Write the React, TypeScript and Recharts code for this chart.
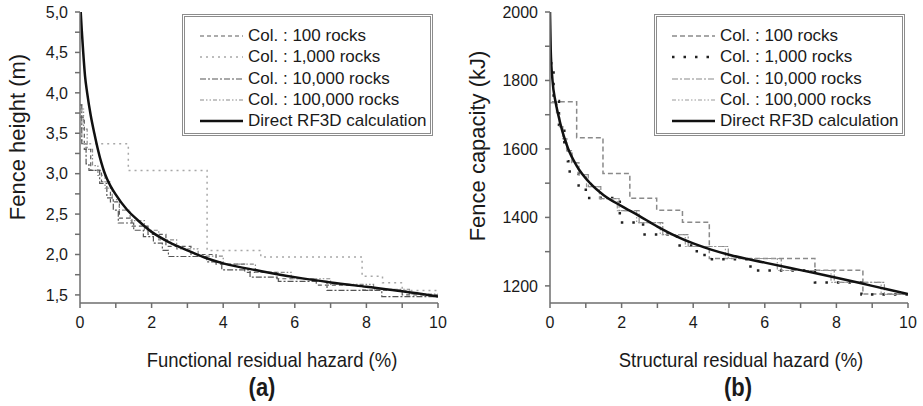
import { Line, LineChart, XAxis, YAxis } from "recharts";

// ---- panel (a): functional residual hazard vs fence height ----
const hazardTicks = [0, 1, 2, 3, 4, 5, 6, 7, 8, 9, 10];
const heightTicks = [1.5, 1.75, 2, 2.25, 2.5, 2.75, 3, 3.25, 3.5, 3.75, 4, 4.25, 4.5, 4.75, 5];

const aDirectX = [0.02, 0.05, 0.09, 0.14, 0.2, 0.3, 0.4, 0.5, 0.6, 0.67, 0.75, 0.85, 1.0, 1.32, 1.6, 2, 2.5, 3, 3.5, 4, 5, 6, 7, 8, 9, 10];
const aDirectY = [5.0, 4.77, 4.5, 4.21, 4.0, 3.72, 3.5, 3.3, 3.13, 3.03, 2.94, 2.85, 2.74, 2.55, 2.43, 2.28, 2.15, 2.05, 1.96, 1.89, 1.8, 1.72, 1.655, 1.6, 1.545, 1.48];

const a100X = [0, 0.12, 0.3, 0.6, 0.85, 1.1, 1.45, 1.9, 2.4, 3.1, 3.8, 4.6, 5.5, 6.6, 7.9, 9.0, 10];
const a100Y = [3.7, 3.3, 3.04, 2.9, 2.65, 2.45, 2.35, 2.25, 2.1, 2.0, 1.88, 1.78, 1.7, 1.62, 1.56, 1.5, 1.5];

const a1kX = [0, 0.05, 1.35, 3.55, 5.05, 7.88, 8.45, 9.0, 10];
const a1kY = [3.85, 3.37, 3.04, 2.05, 1.97, 1.73, 1.65, 1.555, 1.555];

const a10kX = [0, 0.05, 0.17, 0.25, 0.55, 0.75, 0.93, 1.07, 1.5, 1.77, 2.05, 2.3, 2.47, 3.54, 3.96, 4.75, 5.54, 6.9, 8.43, 10];
const a10kY = [3.85, 3.37, 3.12, 3.04, 2.88, 2.7, 2.55, 2.39, 2.3, 2.22, 2.14, 2.05, 1.975, 1.91, 1.81, 1.72, 1.667, 1.555, 1.48, 1.48];

const a100kX = [0, 0.1, 0.2, 0.35, 0.5, 0.7, 0.9, 1.1, 1.4, 1.8, 2.2, 2.7, 3.3, 4.0, 4.9, 5.9, 7.0, 8.2, 9.2, 10];
const a100kY = [3.8, 3.55, 3.3, 3.1, 2.98, 2.82, 2.68, 2.55, 2.42, 2.3, 2.18, 2.07, 1.98, 1.88, 1.78, 1.7, 1.63, 1.57, 1.51, 1.48];

// ---- panel (b): structural residual hazard vs fence capacity ----
const capacityTicks = [1200, 1300, 1400, 1500, 1600, 1700, 1800, 1900, 2000];

const bDirectX = [0, 0.02, 0.07, 0.15, 0.23, 0.35, 0.51, 0.75, 1.12, 1.5, 2, 2.5, 3, 3.5, 4, 4.5, 5, 6, 7, 8, 9, 10];
const bDirectY = [2000, 1890, 1800, 1740, 1700, 1650, 1600, 1550, 1500, 1465, 1433, 1404, 1373, 1346, 1324, 1306, 1291, 1268, 1246, 1224, 1200, 1176];

const b100X = [0.05, 0.745, 1.48, 2.23, 2.98, 3.7, 4.45, 7.4, 8.74, 10];
const b100Y = [1738, 1633, 1528, 1456, 1421, 1386, 1280, 1246, 1176, 1176];

const b1kX = [0, 0.1, 0.25, 0.4, 0.5, 0.55, 0.8, 1.0, 1.95, 2.6, 3.55, 4.1, 4.4, 5.6, 7.4, 8.7, 10];
const b1kY = [1850, 1740, 1660, 1600, 1564, 1528, 1493, 1457, 1385, 1350, 1318, 1290, 1278, 1245, 1210, 1175, 1175];

const b10kX = [0, 0.2, 0.27, 0.36, 0.47, 0.62, 0.81, 1.07, 1.42, 1.93, 2.49, 3.15, 3.86, 4.98, 6.46, 7.94, 9.34, 10];
const b10kY = [1735, 1700, 1665, 1630, 1595, 1560, 1525, 1490, 1455, 1420, 1385, 1350, 1315, 1280, 1245, 1210, 1175, 1175];

const b100kX = [0, 0.18, 0.26, 0.35, 0.46, 0.6, 0.78, 1.02, 1.38, 1.88, 2.42, 3.08, 3.78, 4.9, 6.35, 7.85, 9.25, 10];
const b100kY = [1735, 1700, 1665, 1630, 1595, 1560, 1525, 1490, 1455, 1420, 1385, 1350, 1315, 1280, 1245, 1210, 1175, 1175];

const zip = (xs: number[], ys: number[]) => xs.map((x, i) => ({ x, y: ys[i] }));

const FONT = "'Liberation Sans', Arial, sans-serif";
const AXIS = { stroke: "#6e6e6e", strokeWidth: 1.5 };

type Style = { label: string; color: string; dash?: string; width: number };

const aStyles: Style[] = [
  { label: "Col. : 100 rocks", color: "#5a5a5a", dash: "4 3", width: 1.2 },
  { label: "Col. : 1,000 rocks", color: "#a8a8a8", dash: "2 4", width: 1.5 },
  { label: "Col. : 10,000 rocks", color: "#555", dash: "6 2 2 2", width: 1.2 },
  { label: "Col. : 100,000 rocks", color: "#8a8a8a", dash: "4 2 1.5 2 1.5 2", width: 1.2 },
  { label: "Direct RF3D calculation", color: "#111", width: 2.5 },
];

const bStyles: Style[] = [
  { label: "Col. : 100 rocks", color: "#8a8a8a", dash: "5 3", width: 1.5 },
  { label: "Col. : 1,000 rocks", color: "#222", dash: "2.5 9", width: 2.5 },
  { label: "Col. : 10,000 rocks", color: "#8a8a8a", dash: "6 2 2 2", width: 1.2 },
  { label: "Col. : 100,000 rocks", color: "#9a9a9a", dash: "4 2 1.5 2 1.5 2", width: 1.2 },
  { label: "Direct RF3D calculation", color: "#111", width: 2.5 },
];

function LegendBox({ items, left, sampleLeft }: { items: Style[]; left: number; sampleLeft: number }) {
  return (
    <div
      style={{
        position: "absolute",
        left,
        top: 14,
        width: 251,
        height: 122,
        boxSizing: "border-box",
        border: "3px double #8c8c8c",
        background: "#fff",
        fontFamily: FONT,
        fontSize: 17,
        color: "#1a1a1a",
      }}
    >
      {items.map((s, i) => (
        <div
          key={s.label}
          style={{ position: "absolute", top: 9 + i * 21.25, left: sampleLeft, height: 20, display: "flex", alignItems: "center", whiteSpace: "nowrap" }}
        >
          <svg width={43} height={8} style={{ marginRight: 5 }}>
            <line x1={0} y1={4} x2={43} y2={4} stroke={s.color} strokeWidth={s.width} strokeDasharray={s.dash} />
          </svg>
          {s.label}
        </div>
      ))}
    </div>
  );
}

function Text({ x, y, size, bold, rotate, children }: { x: number; y: number; size: number; bold?: boolean; rotate?: boolean; children: string }) {
  return (
    <div
      style={{
        position: "absolute",
        left: x,
        top: y,
        transform: `translate(-50%, -50%)${rotate ? " rotate(-90deg)" : " scaleX(0.88)"}`,
        fontFamily: FONT,
        fontSize: size,
        fontWeight: bold ? 700 : 400,
        color: "#1a1a1a",
        whiteSpace: "nowrap",
      }}
    >
      {children}
    </div>
  );
}

const tickStyle = { fontSize: 16, fill: "#1a1a1a", fontFamily: FONT };
const evenLabel = (v: number) => (v % 2 === 0 ? String(v) : "");

function Panel({
  series,
  styles,
  domain,
  ticks,
  yLabel,
  yWidth,
  width,
}: {
  series: { x: number; y: number }[][];
  styles: Style[];
  domain: [number, number];
  ticks: number[];
  yLabel: (v: number) => string;
  yWidth: number;
  width: number;
}) {
  return (
    <LineChart width={width} height={406} margin={{ top: 12, right: width === 460 ? 22 : 15, bottom: 63, left: 0 }}>
      <XAxis
        dataKey="x"
        type="number"
        domain={[0, 10]}
        ticks={hazardTicks}
        interval={0}
        tickFormatter={evenLabel}
        tick={tickStyle}
        tickSize={5}
        tickMargin={9}
        axisLine={AXIS}
        tickLine={AXIS}
        height={40}
        allowDataOverflow
      />
      <XAxis xAxisId="top" orientation="top" type="number" domain={[0, 10]} height={0} tick={false} tickLine={false} axisLine={AXIS} />
      <YAxis
        type="number"
        domain={domain}
        ticks={ticks}
        interval={0}
        tickFormatter={yLabel}
        tick={tickStyle}
        tickSize={5}
        tickMargin={7}
        axisLine={AXIS}
        tickLine={AXIS}
        width={yWidth}
        allowDataOverflow
      />
      <YAxis yAxisId="right" orientation="right" type="number" domain={domain} width={0} tick={false} tickLine={false} axisLine={AXIS} />
      {series.map((d, i) => (
        <Line
          key={styles[i].label}
          data={d}
          dataKey="y"
          type={i === 4 ? "monotone" : "stepAfter"}
          stroke={styles[i].color}
          strokeWidth={styles[i].width}
          strokeDasharray={styles[i].dash}
          dot={false}
          activeDot={false}
          isAnimationActive={false}
        />
      ))}
    </LineChart>
  );
}

export default function App() {
  const aSeries = [zip(a100X, a100Y), zip(a1kX, a1kY), zip(a10kX, a10kY), zip(a100kX, a100kY), zip(aDirectX, aDirectY)];
  const bSeries = [zip(b100X, b100Y), zip(b1kX, b1kY), zip(b10kX, b10kY), zip(b100kX, b100kY), zip(bDirectX, bDirectY)];

  return (
    <div style={{ position: "absolute", left: 0, top: 0, width: 923, height: 406, overflow: "hidden", background: "#fff" }}>
      <div style={{ position: "absolute", left: 0, top: 0 }}>
        <Panel
          series={aSeries}
          styles={aStyles}
          domain={[1.4, 5]}
          ticks={heightTicks}
          yLabel={(v) => (Math.abs(v * 2 - Math.round(v * 2)) < 1e-6 ? v.toFixed(1).replace(".", ",") : "")}
          yWidth={80}
          width={460}
        />
      </div>
      <div style={{ position: "absolute", left: 460, top: 0 }}>
        <Panel
          series={bSeries}
          styles={bStyles}
          domain={[1150, 2000]}
          ticks={capacityTicks}
          yLabel={(v) => (v % 200 === 0 ? String(v) : "")}
          yWidth={90}
          width={463}
        />
      </div>

      <LegendBox items={aStyles} left={182} sampleLeft={15} />
      <LegendBox items={bStyles} left={654} sampleLeft={15} />

      <Text x={18} y={137} size={22} rotate>Fence height (m)</Text>
      <Text x={272} y={360} size={21}>Functional residual hazard (%)</Text>
      <Text x={262} y={387} size={25} bold>(a)</Text>

      <Text x={478} y={146} size={22} rotate>Fence capacity (kJ)</Text>
      <Text x={741} y={360} size={21}>Structural residual hazard (%)</Text>
      <Text x={738} y={387} size={25} bold>(b)</Text>
    </div>
  );
}
